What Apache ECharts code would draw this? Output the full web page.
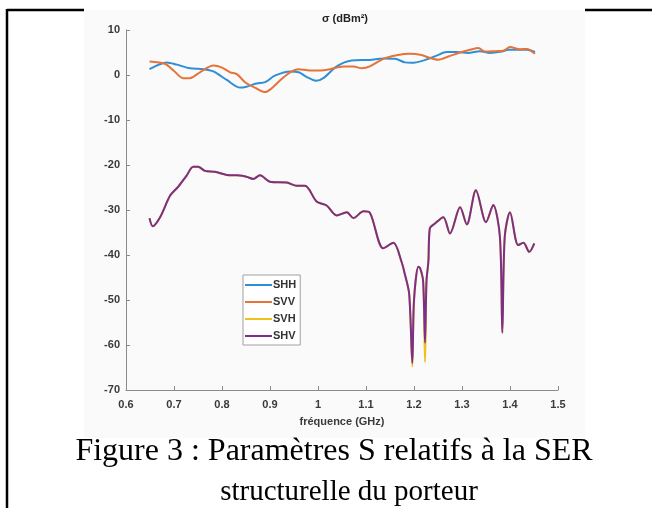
<!DOCTYPE html>
<html>
<head>
<meta charset="utf-8">
<script src="https://cdn.jsdelivr.net/npm/echarts@6/dist/echarts.min.js"></script>
<style>
html,body{margin:0;padding:0;background:#fff;}
#c{width:652px;height:508px;}
</style>
</head>
<body>
<div id="c"></div>
<script>
// Frequencies (GHz) and values (dBm²)
const shhFreq = [0.649,0.685,0.706,0.733,0.761,0.782,0.81,0.8375,0.851,0.872,0.89,0.91,0.942,0.96,0.976,0.996,1.011,1.039,1.07,1.108,1.136,1.16,1.181,1.195,1.219,1.247,1.268,1.289,1.313,1.3375,1.358,1.383,1.396,1.421,1.435,1.452];
const shhVals = [1.3,2.8,2.3,1.5,1.3,0.8,-1.1,-2.8,-2.6,-1.9,-1.6,-0.15,0.8,0.6,-0.4,-1.3,-0.7,1.9,3.2,3.35,3.65,3.6,2.8,2.7,3.2,4.3,5.1,5.1,4.9,5.3,4.9,5.2,5.6,5.6,5.6,5.1];

const svvFreq = [0.649,0.681,0.699,0.719,0.733,0.754,0.782,0.799,0.817,0.831,0.848,0.872,0.89,0.903,0.924,0.942,0.959,0.983,1.004,1.025,1.053,1.074,1.091,1.108,1.136,1.164,1.192,1.213,1.233,1.251,1.2715,1.296,1.317,1.334,1.348,1.369,1.386,1.4,1.421,1.435,1.452];
const svvVals = [3.0,2.5,1.0,-0.7,-0.7,0.6,2.1,1.7,0.6,0.2,-1.6,-3.0,-3.8,-3.0,-0.9,0.6,1.3,1.0,1.0,1.3,1.9,1.9,1.5,1.9,3.6,4.4,4.7,4.5,3.8,3.4,4.1,5.0,5.6,6.0,5.2,5.3,5.4,6.2,5.7,5.8,4.7];

const hvFreq = [0.649,0.6556,0.671,0.692,0.709,0.726,0.74,0.75,0.7646,0.785,0.81,0.831,0.851,0.865,0.879,0.9,0.935,0.9556,0.973,0.997,1.018,1.039,1.06,1.0736,1.095,1.108,1.136,1.157,1.174,1.181,1.19,1.1965,1.2,1.209,1.213,1.219,1.223,1.226,1.23,1.233,1.2437,1.261,1.275,1.296,1.31,1.329,1.35,1.365,1.379,1.384,1.389,1.4,1.417,1.428,1.44,1.4506];
const shvVals = [-31.8,-33.6,-31.6,-26.8,-24.8,-22.4,-20.4,-20.4,-21.3,-21.5,-22.2,-22.3,-22.6,-23.1,-22.3,-23.7,-23.9,-24.6,-24.6,-28.1,-29.0,-31.2,-30.5,-31.8,-30.3,-30.6,-38.5,-37.3,-41.5,-44.3,-48.7,-64.0,-50.1,-42.6,-43.0,-45.8,-59.5,-45.8,-41.4,-34.1,-33.0,-31.6,-35.2,-29.4,-33.2,-25.6,-32.7,-28.9,-36.0,-57.3,-36.0,-30.5,-37.8,-37.3,-39.3,-37.4];
const svhVals = [-31.8,-33.6,-31.6,-26.8,-24.8,-22.4,-20.4,-20.4,-21.3,-21.5,-22.2,-22.3,-22.6,-23.1,-22.3,-23.7,-23.9,-24.6,-24.6,-28.1,-29.0,-31.2,-30.5,-31.8,-30.3,-30.6,-38.5,-37.3,-41.5,-44.3,-48.7,-64.8,-50.1,-42.6,-43.0,-45.8,-63.8,-45.8,-41.4,-34.1,-33.0,-31.6,-35.2,-29.4,-33.2,-25.6,-32.7,-28.9,-36.0,-57.3,-36.0,-30.5,-37.8,-37.3,-39.3,-37.4];

const seriesNames = ['SHH','SVV','SVH','SHV'];
const xTicks = {min:0.6,max:1.5,step:0.1};
const yTicks = {min:-70,max:10,step:10};

const pairs = (f,v) => f.map((x,i)=>[x,v[i]]);
const colors = {SHH:'#2e8fd6',SVV:'#e5733a',SVH:'#f0c01c',SHV:'#7b2f8a'};
const lbl = {color:'#3a3a3a',fontSize:11,fontWeight:'bold',fontFamily:'Liberation Sans, Arial, sans-serif'};

const chart = echarts.init(document.getElementById('c'),null,{renderer:'canvas'});
const mk = (name,data,z) => ({name,type:'line',data,showSymbol:false,smooth:0.3,z,
  lineStyle:{color:colors[name],width:2},itemStyle:{color:colors[name]}});

chart.setOption({
  animation:false,
  backgroundColor:'#ffffff',
  graphic:[
    {type:'rect',shape:{x:84,y:10,width:501,height:428},style:{fill:'#fafafa'},z:-10,silent:true},
    {type:'line',shape:{x1:7,y1:10,x2:84,y2:10},style:{stroke:'#000',lineWidth:2.5},z:-5},
    {type:'line',shape:{x1:585,y1:10,x2:652,y2:10},style:{stroke:'#000',lineWidth:2.5},z:-5},
    {type:'line',shape:{x1:7,y1:9,x2:7,y2:508},style:{stroke:'#000',lineWidth:2.5},z:-5},
    {type:'text',x:0,y:0,style:{text:'σ (dBm²)',x:345,y:19,textAlign:'center',textVerticalAlign:'middle',fill:'#222',font:'bold 11px "Liberation Sans", Arial, sans-serif'}},
    {type:'text',x:0,y:0,style:{text:'fréquence (GHz)',x:342,y:422,textAlign:'center',textVerticalAlign:'middle',fill:'#3a3a3a',font:'bold 11px "Liberation Sans", Arial, sans-serif'}},
    {type:'text',x:0,y:0,style:{text:'Figure 3 : Paramètres S relatifs à la SER',x:334,y:452,textAlign:'center',textVerticalAlign:'middle',fill:'#000',font:'32px "Liberation Serif", "Times New Roman", serif'}},
    {type:'text',x:0,y:0,style:{text:'structurelle du porteur',x:349,y:492,textAlign:'center',textVerticalAlign:'middle',fill:'#000',font:'29px "Liberation Serif", "Times New Roman", serif'}}
  ],
  grid:{left:126,right:94,top:30,bottom:118,containLabel:false},
  legend:{
    data:seriesNames,orient:'vertical',left:243,top:275,
    icon:'rect',itemWidth:27,itemHeight:2,itemGap:5,
    backgroundColor:'#fff',borderColor:'#a0a0a0',borderWidth:1,padding:[4,4,3,2],
    textStyle:{color:'#333',fontSize:11,lineHeight:12,fontWeight:'bold',fontFamily:'Liberation Sans, Arial, sans-serif',padding:[0,0,0,-4]}
  },
  xAxis:{type:'value',min:xTicks.min,max:xTicks.max,interval:xTicks.step,
    axisLine:{show:true,onZero:false,lineStyle:{color:'#8a8a8a',width:1}},
    axisTick:{show:true,inside:true,length:4,lineStyle:{color:'#8a8a8a'}},
    splitLine:{show:false},
    axisLabel:Object.assign({margin:9},lbl)},
  yAxis:{type:'value',min:yTicks.min,max:yTicks.max,interval:yTicks.step,
    axisLine:{show:true,onZero:false,lineStyle:{color:'#8a8a8a',width:1}},
    axisTick:{show:true,inside:true,length:4,lineStyle:{color:'#8a8a8a'}},
    splitLine:{show:false},
    axisLabel:Object.assign({margin:6},lbl)},
  series:[
    mk('SHH',pairs(shhFreq,shhVals),2),
    mk('SVV',pairs(svvFreq,svvVals),3),
    mk('SVH',pairs(hvFreq,svhVals),4),
    mk('SHV',pairs(hvFreq,shvVals),5)
  ]
});
</script>
</body>
</html>
